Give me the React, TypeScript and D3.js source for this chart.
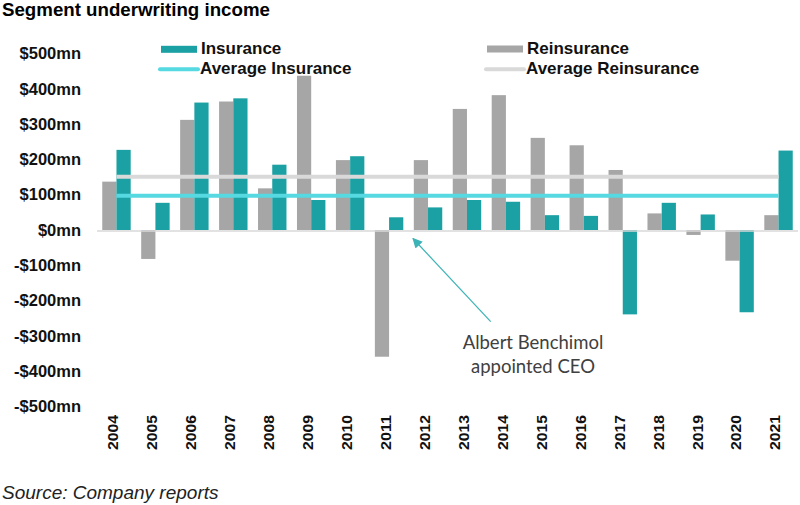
import * as d3 from 'd3';
import React, { useEffect, useRef } from 'react';

const years = ['2004', '2005', '2006', '2007', '2008', '2009', '2010', '2011', '2012', '2013', '2014', '2015', '2016', '2017', '2018', '2019', '2020', '2021'];
const reinsurance = [137, -82, 312, 364, 118, 437, 198, -359, 198, 343, 382, 261, 240, 170, 47, -14, -87, 42];
const insurance = [227, 77, 361, 373, 185, 85, 209, 36, 64, 85, 80, 42, 40, -239, 77, 44, -233, 225];
const avgInsurance = 97;
const avgReinsurance = 151;
const yTicks = [500, 400, 300, 200, 100, 0, -100, -200, -300, -400, -500];

const width = 800;
const height = 505;
const plot = { left: 97, right: 798, top: 53.5, bottom: 406.5 };
const font = "'Liberation Sans', Arial, sans-serif";

const teal = '#1ba0a3';
const grey = '#a6a6a6';
const avgTeal = '#56d9e1';
const avgGrey = '#d9d9d9';

const fmt = (v: number) => (v < 0 ? `-$${-v}mn` : `$${v}mn`);

const App: React.FC = () => {
  const svgRef = useRef<SVGSVGElement>(null);
  useEffect(() => {
    if (!svgRef.current) return;
    const svg = d3.select(svgRef.current);
    svg.selectAll('*').remove();

    const x = d3
      .scaleBand<string>()
      .domain(years)
      .range([plot.left, plot.right])
      .paddingInner(0.27)
      .paddingOuter(0.135);
    const sub = d3.scaleBand<string>().domain(['re', 'ins']).range([0, x.bandwidth()]);
    const y = d3.scaleLinear().domain([-500, 500]).range([plot.bottom, plot.top]);

    // title
    svg
      .append('text')
      .attr('x', 2)
      .attr('y', 16)
      .attr('font-family', font)
      .attr('font-weight', 'bold')
      .attr('font-size', 18.7)
      .text('Segment underwriting income');

    // y axis labels
    svg
      .append('g')
      .selectAll('text')
      .data(yTicks)
      .enter()
      .append('text')
      .attr('x', 81)
      .attr('y', (d) => y(d))
      .attr('dy', '0.35em')
      .attr('text-anchor', 'end')
      .attr('font-family', font)
      .attr('font-weight', 'bold')
      .attr('font-size', 16.5)
      .attr('fill', '#111')
      .text((d) => fmt(d));

    // bars
    const bars = (data: number[], key: string, color: string) =>
      svg
        .append('g')
        .selectAll('rect')
        .data(data)
        .enter()
        .append('rect')
        .attr('x', (_, i) => x(years[i])! + sub(key)!)
        .attr('y', (d) => y(Math.max(0, d)))
        .attr('width', sub.bandwidth())
        .attr('height', (d) => Math.abs(y(d) - y(0)))
        .attr('fill', color);
    bars(reinsurance, 're', grey);
    bars(insurance, 'ins', teal);

    // zero line
    svg
      .append('line')
      .attr('x1', plot.left)
      .attr('x2', plot.right)
      .attr('y1', y(0) + 1)
      .attr('y2', y(0) + 1)
      .attr('stroke', '#d9d9d9')
      .attr('stroke-width', 1.5);

    // average lines
    const x0 = x(years[0])! + x.bandwidth() / 2;
    const x1 = x(years[years.length - 1])! + x.bandwidth() / 2;
    [
      { v: avgReinsurance, c: avgGrey },
      { v: avgInsurance, c: avgTeal },
    ].forEach((a) =>
      svg
        .append('line')
        .attr('x1', x0)
        .attr('x2', x1)
        .attr('y1', y(a.v))
        .attr('y2', y(a.v))
        .attr('stroke', a.c)
        .attr('stroke-width', 4)
    );

    // x axis labels
    svg
      .append('g')
      .selectAll('text')
      .data(years)
      .enter()
      .append('text')
      .attr('transform', (d) => `translate(${x(d)! + x.bandwidth() / 2 - 3},450) rotate(-90)`)
      .attr('dy', '0.35em')
      .attr('font-family', font)
      .attr('font-weight', 'bold')
      .attr('font-size', 14)
      .attr('textLength', 35)
      .attr('lengthAdjust', 'spacingAndGlyphs')
      .attr('fill', '#111')
      .text((d) => d);

    // legend
    const legend = [
      { label: 'Insurance', kind: 'rect', c: teal, x: 161, y: 54.3 },
      { label: 'Average Insurance', kind: 'line', c: avgTeal, x: 160, y: 74 },
      { label: 'Reinsurance', kind: 'rect', c: grey, x: 487, y: 54 },
      { label: 'Average Reinsurance', kind: 'line', c: avgGrey, x: 486, y: 74 },
    ];
    legend.forEach((l) => {
      if (l.kind === 'rect') {
        svg.append('rect').attr('x', l.x).attr('y', l.y - 8.5).attr('width', 36).attr('height', 7).attr('fill', l.c);
      } else {
        svg
          .append('line')
          .attr('x1', l.x)
          .attr('x2', l.x + 38)
          .attr('y1', l.y - 4.7)
          .attr('y2', l.y - 4.7)
          .attr('stroke', l.c)
          .attr('stroke-width', 4)
          .attr('stroke-linecap', 'round');
      }
      svg
        .append('text')
        .attr('x', l.x + 40)
        .attr('y', l.y)
        .attr('font-family', font)
        .attr('font-weight', 'bold')
        .attr('font-size', 17)
        .attr('fill', '#111')
        .text(l.label);
    });

    // annotation arrow
    const defs = svg.append('defs');
    defs
      .append('marker')
      .attr('id', 'arrow')
      .attr('viewBox', '0 0 10 10')
      .attr('refX', 9)
      .attr('refY', 5)
      .attr('markerWidth', 10)
      .attr('markerHeight', 10)
      .attr('markerUnits', 'userSpaceOnUse')
      .attr('orient', 'auto')
      .append('path')
      .attr('d', 'M0,0L10,5L0,10z')
      .attr('fill', '#3cb3b6');
    svg
      .append('line')
      .attr('x1', 490.7)
      .attr('y1', 321.7)
      .attr('x2', 413)
      .attr('y2', 238.5)
      .attr('stroke', '#3cb3b6')
      .attr('stroke-width', 1.2)
      .attr('marker-end', 'url(#arrow)');

    const note = svg
      .append('text')
      .attr('text-anchor', 'middle')
      .attr('font-family', 'Lato, sans-serif')
      .attr('font-size', 18.5)
      .attr('fill', '#404040');
    note.append('tspan').attr('x', 533).attr('y', 349).text('Albert Benchimol');
    note.append('tspan').attr('x', 533).attr('y', 373).text('appointed CEO');

    // source
    svg
      .append('text')
      .attr('x', 2)
      .attr('y', 499)
      .attr('font-family', font)
      .attr('font-style', 'italic')
      .attr('font-size', 19)
      .attr('fill', '#222')
      .text('Source: Company reports');
  }, []);
  return (
    <svg
      ref={svgRef}
      width={width}
      height={height}
      viewBox={`0 0 ${width} ${height}`}
      style={{ position: 'absolute', left: 0, top: 0, background: '#fff' }}
    />
  );
};

export default App;
